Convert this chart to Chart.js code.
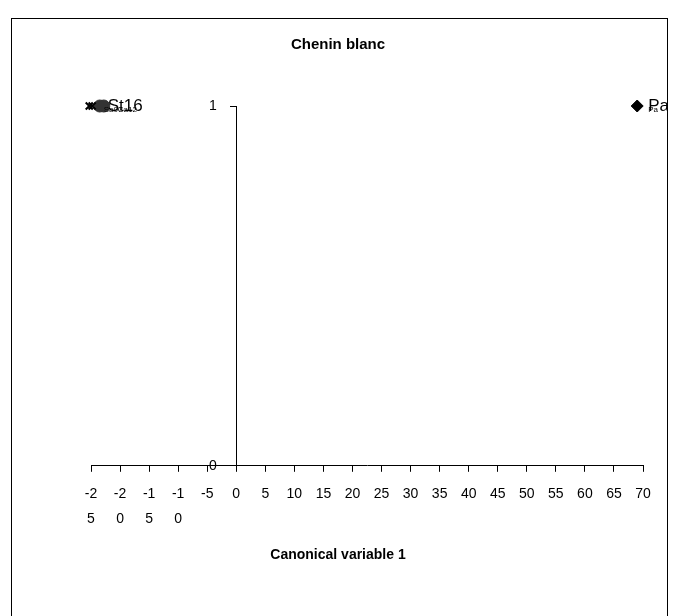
<!DOCTYPE html>
<html lang="en">
<head>
    <meta charset="UTF-8">
    <title>Chenin blanc</title>
    <script src="https://cdn.jsdelivr.net/npm/chart.js"></script>
    <style>
        body { margin: 0; background: #fff; }
        #wrap { width: 680px; height: 616px; }
    </style>
</head>
<body>
    <div id="wrap"><canvas id="cvaChart" width="680" height="616"></canvas></div>

    <script>
        // canonical variable 1 scores (all plotted at y = 1)
        const xTicks = [-25, -20, -15, -10, -5, 0, 5, 10, 15, 20, 25, 30, 35, 40, 45, 50, 55, 60, 65, 70];
        const paX = [69];
        const paY = [1];
        const st16X = [-23.5, -22.8];
        const st16Y = [1, 1];
        const otherX = [-25.3, -24.8];
        const otherY = [1, 1];

        // point labels: big name + small overlapping name
        const paLabels = ['Pa'];
        const paSmall = ['Pa'];
        const st16Labels = ['', 'St16'];
        const st16Small = ['Sa07', 'Ca12'];

        const FONT = '"Liberation Sans", Arial, sans-serif';
        const toPts = (xs, ys) => xs.map((x, i) => ({ x: x, y: ys[i] }));

        // excel-like chart frame
        const framePlugin = {
            id: 'frame',
            beforeDraw(chart) {
                const c = chart.ctx;
                c.save();
                c.fillStyle = '#fff';
                c.fillRect(0, 0, chart.width, chart.height);
                c.restore();
            },
            afterDraw(chart) {
                const c = chart.ctx;
                c.save();
                c.fillStyle = '#fff';
                c.fillRect(668, 0, 12, chart.height);
                c.strokeStyle = '#000';
                c.lineWidth = 1;
                c.strokeRect(11.5, 18.5, 656, 640);
                c.restore();
            }
        };

        // simple text labels next to points
        const labelPlugin = {
            id: 'pointLabels',
            afterDatasetsDraw(chart) {
                const c = chart.ctx;
                c.save();
                c.fillStyle = '#000';
                c.textBaseline = 'middle';
                chart.data.datasets.forEach((ds, di) => {
                    if (!ds.labels) return;
                    const meta = chart.getDatasetMeta(di);
                    meta.data.forEach((pt, i) => {
                        const off = ds.labelOffset || 5;
                        if (ds.small && ds.small[i]) {
                            c.font = '8px ' + FONT;
                            c.fillText(ds.small[i], pt.x + off + i * 10, pt.y + 4);
                        }
                        if (ds.labels[i]) {
                            c.font = '17px ' + FONT;
                            c.fillText(ds.labels[i], pt.x + off, pt.y);
                        }
                    });
                });
                c.restore();
            }
        };

        // empty side axes just to reserve room so the titles centre on the frame
        const spacer = (pos, w) => ({
            type: 'linear',
            position: pos,
            display: true,
            grid: { display: false },
            border: { display: false },
            ticks: { display: false },
            afterFit(s) { s.width = w; }
        });

        const ctx = document.getElementById('cvaChart').getContext('2d');
        new Chart(ctx, {
            type: 'scatter',
            data: {
                datasets: [
                    {
                        label: 'Pa',
                        data: toPts(paX, paY),
                        pointStyle: 'rectRot',
                        pointRadius: 6,
                        backgroundColor: '#000',
                        borderColor: '#000',
                        clip: false,
                        labels: paLabels,
                        small: paSmall,
                        labelOffset: 11
                    },
                    {
                        label: 'Others',
                        data: toPts(otherX, otherY),
                        pointStyle: 'crossRot',
                        pointRadius: 5,
                        borderWidth: 2,
                        backgroundColor: '#000',
                        borderColor: '#000',
                        clip: false
                    },
                    {
                        label: 'St16',
                        data: toPts(st16X, st16Y),
                        pointStyle: 'circle',
                        pointRadius: 6,
                        backgroundColor: '#333',
                        borderColor: '#333',
                        clip: false,
                        labels: st16Labels,
                        small: st16Small,
                        labelOffset: 4
                    }
                ]
            },
            options: {
                responsive: false,
                animation: false,
                layout: { padding: { top: 18, left: 0, right: 4, bottom: 42 } },
                plugins: {
                    legend: { display: false },
                    tooltip: { enabled: false },
                    title: {
                        display: true,
                        text: 'Chenin blanc',
                        color: '#000',
                        font: { family: FONT, size: 15, weight: 'bold' },
                        padding: { top: 18, bottom: 52 }
                    },
                    subtitle: {
                        display: true,
                        position: 'bottom',
                        text: 'Canonical variable 1',
                        color: '#000',
                        font: { family: FONT, size: 14, weight: 'bold' },
                        padding: { top: 5, bottom: 10 }
                    }
                },
                scales: {
                    x: {
                        type: 'linear',
                        min: -25,
                        max: 70,
                        afterBuildTicks(scale) {
                            scale.ticks = xTicks.map(v => ({ value: v }));
                        },
                        grid: { display: true, drawOnChartArea: false, color: '#000', tickLength: 6 },
                        border: { display: true, color: '#000', width: 1 },
                        ticks: {
                            color: '#000',
                            maxRotation: 0,
                            autoSkip: false,
                            padding: 10,
                            font: { family: FONT, size: 14, lineHeight: 1.8 },
                            callback(v) {
                                const s = String(v);
                                // narrow columns wrap the two-digit negatives
                                return (v <= -10) ? [s.slice(0, 2), s.slice(2)] : s;
                            }
                        }
                    },
                    y: {
                        type: 'linear',
                        position: { x: 0 },
                        min: 0,
                        max: 1,
                        ticks: {
                            stepSize: 1,
                            color: '#000',
                            font: { family: FONT, size: 14 },
                            // axis sits mid-chart, labels need room from the line
                            callback: v => v + '\u2007\u2007 '
                        },
                        grid: { display: true, drawOnChartArea: false, color: '#000', tickLength: 6 },
                        border: { display: true, color: '#000', width: 1 }
                    },
                    padL: spacer('left', 91),
                    padR: spacer('right', 33)
                }
            },
            plugins: [framePlugin, labelPlugin]
        });
    </script>
</body>
</html>
